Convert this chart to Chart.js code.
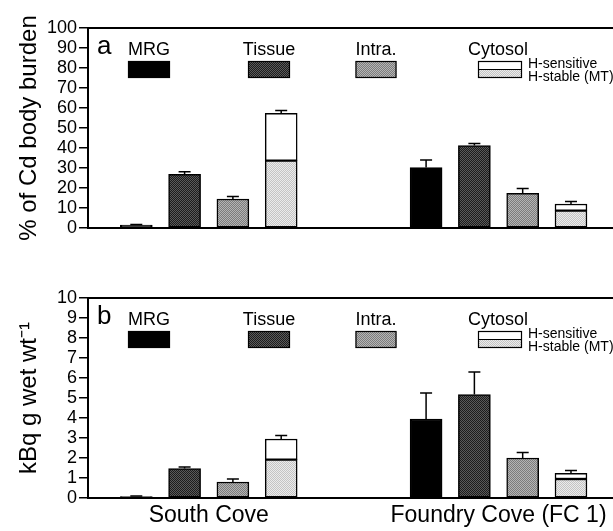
<!DOCTYPE html>
<html>
<head>
<meta charset="utf-8">
<script src="https://cdn.jsdelivr.net/npm/chart.js@4.4.0/dist/chart.umd.min.js"></script>
<style>
  html, body { margin: 0; padding: 0; background: #fff; }
  #wrap { position: relative; width: 613px; height: 531px; }
  .panel { position: absolute; left: 0; width: 613px; }
  #panelA { top: 0; height: 265px; }
  #panelB { top: 265px; height: 266px; }
</style>
</head>
<body>
<div id="wrap">
  <div class="panel" id="panelA"><canvas id="chartA"></canvas></div>
  <div class="panel" id="panelB"><canvas id="chartB"></canvas></div>
</div>
<script>
// Sites and fractions
const groups = ['South Cove', 'Foundry Cove (FC 1)'];
const fractions = ['MRG', 'Tissue', 'Intra.', 'Cytosol'];
// x slot of each bar (South Cove: 1-4, Foundry Cove: 7-10)
const slotsSouth = [1, 2, 3, 4];
const slotsFoundry = [7, 8, 9, 10];

// (a) % of Cd body burden, [South Cove, Foundry Cove]
const burdenMRG = [1.5, 30.2];
const burdenTissue = [26.8, 41.2];
const burdenIntra = [14.5, 17.3];
const burdenStable = [33.7, 8.7];     // cytosol, H-stable (MT)
const burdenSensitive = [23.6, 3.3];  // cytosol, H-sensitive
const burdenErrMRG = [0.3, 3.8];
const burdenErrTissue = [1.3, 1.0];
const burdenErrIntra = [1.2, 2.4];
const burdenErrCytosol = [1.5, 1.3];
const burdenTicks = [0, 10, 20, 30, 40, 50, 60, 70, 80, 90, 100];

// (b) kBq g wet wt-1, [South Cove, Foundry Cove]
const actMRG = [0.07, 3.95];
const actTissue = [1.47, 5.17];
const actIntra = [0.8, 2.0];
const actStable = [1.92, 0.95];
const actSensitive = [1.03, 0.28];
const actErrMRG = [0.03, 1.3];
const actErrTissue = [0.08, 1.13];
const actErrIntra = [0.15, 0.27];
const actErrCytosol = [0.18, 0.14];
const actTicks = [0, 1, 2, 3, 4, 5, 6, 7, 8, 9, 10];

Chart.defaults.font.family = '"Liberation Sans", Arial, Helvetica, sans-serif';
Chart.defaults.color = '#000';

// small dither textures like the printed greys
function makePattern(c1, c2) {
    const pc = document.createElement('canvas');
    pc.width = 2; pc.height = 2;
    const p = pc.getContext('2d');
    p.fillStyle = c1; p.fillRect(0, 0, 2, 2);
    p.fillStyle = c2; p.fillRect(0, 0, 1, 1); p.fillRect(1, 1, 1, 1);
    return p.createPattern(pc, 'repeat');
}
const fillMRG = '#000000';
const fillTissue = makePattern('#1c1c1c', '#5a5a5a');
const fillIntra = makePattern('#7c7c7c', '#b4b4b4');
const fillStable = makePattern('#c4c4c4', '#ebebeb');
const fillSensitive = '#ffffff';

function buildPanel(id, letter, yTitle, yMax, ticks, vals, errs, showGroups, padTop) {
    const slots = slotsSouth.concat(slotsFoundry);
    // lower stack: MRG, Tissue, Intra, H-stable per site
    const lower = [];
    const lowerFill = [];
    const tops = [];
    const errList = [];
    [0, 1].forEach(function(g) {
        const s = g === 0 ? slotsSouth : slotsFoundry;
        lower.push({x: s[0], y: vals.mrg[g]});
        lower.push({x: s[1], y: vals.tissue[g]});
        lower.push({x: s[2], y: vals.intra[g]});
        lower.push({x: s[3], y: vals.stable[g]});
        lowerFill.push(fillMRG, fillTissue, fillIntra, fillStable);
        tops.push(vals.mrg[g], vals.tissue[g], vals.intra[g], vals.stable[g] + vals.sensitive[g]);
        errList.push(errs.mrg[g], errs.tissue[g], errs.intra[g], errs.cytosol[g]);
    });
    const upper = [
        {x: slotsSouth[3], y: vals.sensitive[0]},
        {x: slotsFoundry[3], y: vals.sensitive[1]}
    ];

    const errorBars = {
        id: 'errorBars',
        afterDatasetsDraw: function(chart) {
            const ctx = chart.ctx;
            const xs = chart.scales.x, ys = chart.scales.y;
            ctx.save();
            ctx.strokeStyle = '#000';
            ctx.lineWidth = 1.5;
            slots.forEach(function(s, i) {
                const px = xs.getPixelForValue(s);
                const y0 = ys.getPixelForValue(tops[i]);
                const y1 = ys.getPixelForValue(tops[i] + errList[i]);
                ctx.beginPath();
                ctx.moveTo(px, y0); ctx.lineTo(px, y1);
                ctx.moveTo(px - 6, y1); ctx.lineTo(px + 6, y1);
                ctx.stroke();
            });
            ctx.restore();
        }
    };

    const frameAndLegend = {
        id: 'frameAndLegend',
        afterDraw: function(chart) {
            const ctx = chart.ctx;
            const a = chart.chartArea;
            ctx.save();
            // top border of the frame
            ctx.strokeStyle = '#000';
            ctx.lineWidth = 2;
            ctx.beginPath();
            ctx.moveTo(a.left, a.top); ctx.lineTo(chart.width, a.top);
            ctx.stroke();
            // panel letter
            ctx.fillStyle = '#000';
            ctx.font = '26px "Liberation Sans", Arial, sans-serif';
            ctx.textAlign = 'left';
            ctx.textBaseline = 'alphabetic';
            ctx.fillText(letter, a.left + 9, a.top + 26);
            // legend
            const labelY = a.top + 22;
            const swTop = a.top + 33, swH = 17;
            const items = [
                {cx: 149, w: 42, fill: fillMRG},
                {cx: 269, w: 42, fill: fillTissue},
                {cx: 376, w: 41, fill: fillIntra},
                {cx: 500, w: 44, fill: null}
            ];
            ctx.font = '18px "Liberation Sans", Arial, sans-serif';
            ctx.textAlign = 'center';
            ctx.textBaseline = 'middle';
            ctx.lineWidth = 1.2;
            items.forEach(function(it, i) {
                const lx = i === 3 ? 498 : it.cx;
                ctx.fillStyle = '#000';
                ctx.fillText(fractions[i], lx, labelY);
                const x0 = it.cx - it.w / 2;
                if (it.fill) {
                    ctx.fillStyle = it.fill;
                    ctx.fillRect(x0, swTop, it.w, swH);
                    ctx.strokeRect(x0 + 0.5, swTop + 0.5, it.w - 1, swH - 1);
                } else {
                    const half = swH / 2;
                    ctx.fillStyle = fillSensitive;
                    ctx.fillRect(x0, swTop, it.w, half);
                    ctx.fillStyle = fillStable;
                    ctx.fillRect(x0, swTop + half, it.w, half);
                    ctx.strokeRect(x0 + 0.5, swTop + 0.5, it.w - 1, swH - 1);
                    ctx.beginPath();
                    ctx.moveTo(x0, swTop + half); ctx.lineTo(x0 + it.w, swTop + half);
                    ctx.stroke();
                    ctx.fillStyle = '#000';
                    ctx.font = '14px "Liberation Sans", Arial, sans-serif';
                    ctx.textAlign = 'left';
                    ctx.fillText('H-sensitive', x0 + it.w + 6, swTop + 3);
                    ctx.fillText('H-stable (MT)', x0 + it.w + 6, swTop + 16);
                }
            });
            ctx.restore();
        }
    };

    const canvas = document.getElementById(id);
    return new Chart(canvas, {
        type: 'bar',
        data: {
            datasets: [
                {
                    label: 'lower',
                    stack: 'cd',
                    data: lower,
                    backgroundColor: lowerFill,
                    borderColor: '#000',
                    borderWidth: 1.5,
                    borderSkipped: false,
                    barThickness: 32
                },
                {
                    label: 'H-sensitive',
                    stack: 'cd',
                    data: upper,
                    backgroundColor: fillSensitive,
                    borderColor: '#000',
                    borderWidth: 1.5,
                    borderSkipped: false,
                    barThickness: 32
                }
            ]
        },
        options: {
            responsive: true,
            maintainAspectRatio: false,
            animation: false,
            layout: { padding: { top: padTop, left: 0, right: 0, bottom: 0 } },
            plugins: {
                legend: { display: false },
                tooltip: { enabled: false },
                title: { display: false }
            },
            scales: {
                x: {
                    type: 'linear',
                    offset: false,
                    min: 0,
                    max: 10.87,
                    afterBuildTicks: function(scale) {
                        scale.ticks = [{value: 2.5}, {value: 8.5}];
                    },
                    afterFit: function(scale) {
                        scale.height = showGroups ? 33 : 37;
                    },
                    ticks: {
                        display: showGroups,
                        autoSkip: false,
                        maxRotation: 0,
                        padding: 4,
                        font: { size: 23 },
                        callback: function(value) {
                            return value < 5 ? groups[0] : groups[1];
                        }
                    },
                    grid: { display: false, drawTicks: false },
                    border: { display: true, color: '#000', width: 2 }
                },
                y: {
                    stacked: true,
                    min: 0,
                    max: yMax,
                    afterBuildTicks: function(scale) {
                        scale.ticks = ticks.map(function(v) { return {value: v}; });
                    },
                    afterFit: function(scale) {
                        scale.width = 88;
                    },
                    ticks: {
                        autoSkip: false,
                        padding: 2,
                        font: { size: 18 }
                    },
                    grid: {
                        drawOnChartArea: false,
                        drawTicks: true,
                        tickLength: 9,
                        color: '#000',
                        lineWidth: 1.5
                    },
                    border: { display: true, color: '#000', width: 2 },
                    title: {
                        display: true,
                        text: yTitle,
                        font: { size: 24 },
                        padding: { top: 15, bottom: 0 }
                    }
                }
            }
        },
        plugins: [errorBars, frameAndLegend]
    });
}

buildPanel('chartA', 'a', '% of Cd body burden', 100, burdenTicks,
    { mrg: burdenMRG, tissue: burdenTissue, intra: burdenIntra, stable: burdenStable, sensitive: burdenSensitive },
    { mrg: burdenErrMRG, tissue: burdenErrTissue, intra: burdenErrIntra, cytosol: burdenErrCytosol },
    false, 28);

buildPanel('chartB', 'b', 'kBq g wet wt\u207B\u00B9', 10, actTicks,
    { mrg: actMRG, tissue: actTissue, intra: actIntra, stable: actStable, sensitive: actSensitive },
    { mrg: actErrMRG, tissue: actErrTissue, intra: actErrIntra, cytosol: actErrCytosol },
    true, 33);
</script>
</body>
</html>
